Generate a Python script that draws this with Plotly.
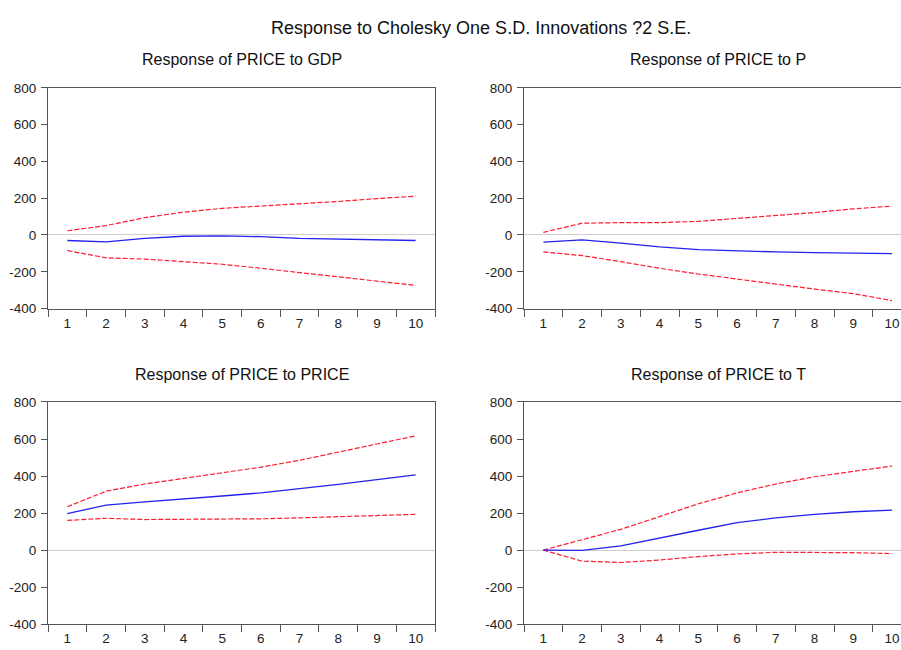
import plotly.graph_objects as go

periods = ["1", "2", "3", "4", "5", "6", "7", "8", "9", "10"]

gdp_resp = [-30, -37, -18, -7, -5, -9, -18, -23, -28, -30]
gdp_upper = [23, 51, 94, 124, 145, 157, 170, 182, 198, 211]
gdp_lower = [-85, -124, -131, -143, -159, -181, -204, -227, -250, -274]

p_resp = [-39, -27, -44, -65, -80, -87, -92, -96, -97, -101]
p_upper = [14, 64, 67, 67, 74, 89, 104, 122, 142, 157]
p_lower = [-92, -112, -145, -181, -212, -241, -267, -294, -319, -357]

price_resp = [197, 243, 260, 278, 292, 309, 330, 355, 380, 406]
price_upper = [234, 318, 357, 387, 415, 448, 485, 527, 573, 617]
price_lower = [160, 172, 165, 165, 167, 169, 174, 179, 186, 193]

t_resp = [0, -2, 23, 63, 107, 148, 174, 193, 207, 216]
t_upper = [0, 58, 112, 181, 250, 309, 357, 396, 427, 454]
t_lower = [0, -60, -67, -54, -35, -21, -12, -12, -14, -19]

y_ticks = [-400, -200, 0, 200, 400, 600, 800]
y_tick_text = [str(v) for v in y_ticks]

main_title = "Response to Cholesky One S.D. Innovations ?2 S.E."
panel_titles = ["Response of PRICE to GDP", "Response of PRICE to P",
                "Response of PRICE to PRICE", "Response of PRICE to T"]

W, H = 901, 650
FONT = "Liberation Sans, Arial, sans-serif"
AX = "#555555"

panels = [
    (gdp_resp, gdp_upper, gdp_lower),
    (p_resp, p_upper, p_lower),
    (price_resp, price_upper, price_lower),
    (t_resp, t_upper, t_lower),
]

# pixel geometry of each plot area: (x0, x1), (y_top, y_bottom)
left_x = (48, 435)
right_x = (524, 901)
top_y = (82.7, 308.7)
bot_y = (404.3, 631.7)
px_per_unit = 38.75
geoms = [(left_x, top_y), (right_x, top_y), (left_x, bot_y), (right_x, bot_y)]
title_y = [53.5, 53.5, 376, 376]
title_cx = [241.5, 718, 241.5, 718]

fig = go.Figure()
for i, ((resp, up, lo), ((x0, x1), (yt, yb))) in enumerate(zip(panels, geoms)):
    n = i + 1
    xa = "x" if n == 1 else f"x{n}"
    ya = "y" if n == 1 else f"y{n}"
    for vals, color, dash, width in [(up, "#ff1a2e", "5px,2px", 1.2),
                                     (lo, "#ff1a2e", "5px,2px", 1.2),
                                     (resp, "#2222ee", "solid", 1.3)]:
        fig.add_trace(go.Scatter(x=periods, y=vals, mode="lines",
                                 line=dict(color=color, dash=dash, width=width),
                                 xaxis=xa, yaxis=ya, showlegend=False,
                                 hoverinfo="skip"))
    right_side = (n % 2 == 0)
    xr = [-0.5, -0.5 + (x1 - x0) / px_per_unit] if right_side else [-0.5, 9.5]
    xkey = "xaxis" if n == 1 else f"xaxis{n}"
    ykey = "yaxis" if n == 1 else f"yaxis{n}"
    fig.layout[xkey] = dict(
        domain=[x0 / W, x1 / W], anchor=ya, type="category",
        categoryorder="array", categoryarray=periods,
        range=xr, tickson="boundaries", ticks="outside", ticklen=7,
        tickcolor=AX, tickwidth=1, showline=True, linecolor=AX, linewidth=1,
        mirror=True, showgrid=False, zeroline=False, ticklabelstandoff=2,
        tickfont=dict(family=FONT, size=13.5, color="#222222"),
    )
    fig.layout[ykey] = dict(
        domain=[1 - yb / H, 1 - yt / H], anchor=xa, range=[-400, 800],
        tickvals=y_ticks, ticktext=y_tick_text, ticks="outside", ticklen=6,
        tickcolor=AX, showline=True, linecolor=AX, linewidth=1,
        mirror=(not right_side), showgrid=False, ticklabelstandoff=2,
        zeroline=True, zerolinecolor="#cfcfcf", zerolinewidth=1,
        tickfont=dict(family=FONT, size=13.5, color="#222222"),
    )
    fig.add_annotation(text=panel_titles[i], xref="paper", yref="paper",
                       x=title_cx[i] / W, y=1 - title_y[i] / H,
                       xanchor="center", yanchor="middle", showarrow=False,
                       font=dict(family=FONT, size=16, color="#111111"))

fig.add_annotation(text=main_title, xref="paper", yref="paper",
                   x=481 / W, y=1 - 21 / H, xanchor="center", yanchor="middle",
                   showarrow=False, font=dict(family=FONT, size=18, color="#111111"))

fig.update_layout(width=W, height=H, margin=dict(l=0, r=0, t=0, b=0),
                  paper_bgcolor="white", plot_bgcolor="white")

fig.write_html("out.html", config={"displayModeBar": False})
